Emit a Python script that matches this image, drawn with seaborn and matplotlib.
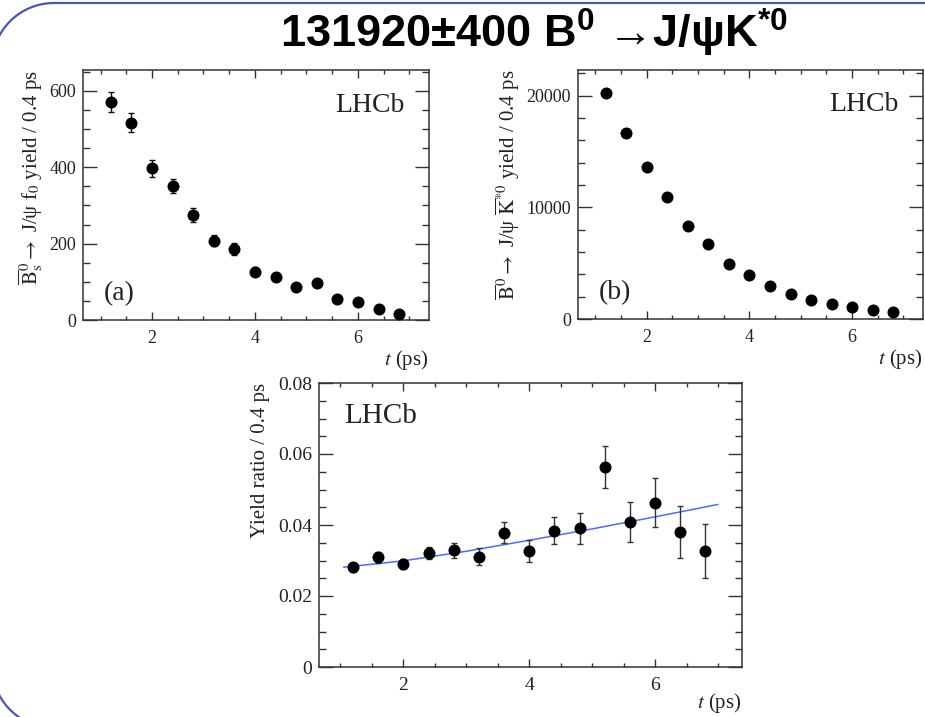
import numpy as np
import pandas as pd
import matplotlib
matplotlib.use("Agg")
import matplotlib.pyplot as plt
import seaborn as sns
from matplotlib.ticker import MultipleLocator, FormatStrFormatter

# ---------------- data ----------------
t = [1.2, 1.6, 2.0, 2.4, 2.8, 3.2, 3.6, 4.0, 4.4, 4.8, 5.2, 5.6, 6.0, 6.4, 6.8]
yield_bs = [571, 517, 397, 351, 275, 208, 186, 127, 113, 87, 98, 54, 47, 28, 17]
yield_bs_err = [26, 25, 22, 19, 18, 14, 15, 11, 11, 9, 10, 7, 7, 5, 4]
yield_bd = [20209, 16692, 13651, 10909, 8316, 6706, 4918, 3905, 2981, 2265,
            1729, 1341, 1043, 775, 596]
ratio = [0.0281, 0.0309, 0.0290, 0.0321, 0.0329, 0.0311, 0.0378, 0.0328,
         0.0384, 0.0391, 0.0563, 0.0408, 0.0462, 0.0381, 0.0327]
ratio_err = [0.0013, 0.0015, 0.0015, 0.0018, 0.0021, 0.0024, 0.0030, 0.0031,
             0.0038, 0.0044, 0.0059, 0.0057, 0.0069, 0.0073, 0.0077]
fit_t = [1.05, 2.0, 3.0, 4.0, 5.0, 6.0, 7.0]
fit_ratio = [0.0281, 0.0299, 0.0326, 0.0357, 0.0389, 0.0423, 0.0458]

title = "131920\u00b1400 B$^\\mathbf{0}$ \u2192J/\u03c8K$^\\mathbf{*0}$"
ylabel_a = r"$\overline{\mathrm{B}}^0_\mathrm{s}\rightarrow$ J/ψ f$_0$ yield / 0.4 ps"
ylabel_b = r"$\overline{\mathrm{B}}^0\rightarrow$ J/ψ $\overline{\mathrm{K}}^{*0}$ yield / 0.4 ps"
ylabel_c = "Yield ratio / 0.4 ps"
xlabel = r"$t$ (ps)"

df = pd.DataFrame({"t": t, "bs": yield_bs, "bs_err": yield_bs_err,
                   "bd": yield_bd, "ratio": ratio, "ratio_err": ratio_err})
df_fit = pd.DataFrame({"t": fit_t, "r": fit_ratio})

# ---------------- style ----------------
sns.set_theme(style="ticks")
plt.rcParams["font.family"] = ["Liberation Serif", "DejaVu Serif"]
plt.rcParams["mathtext.fontset"] = "stix"
plt.rcParams["mathtext.bf"] = "Liberation Sans:bold"
TXT = "#222222"

fig = plt.figure(figsize=(9.25, 7.17), dpi=100)
W, H = 925, 717

def box(l, t_, r, b):
    return [l / W, 1 - b / H, (r - l) / W, (b - t_) / H]

ax_a = fig.add_axes(box(83, 70, 429, 320))
ax_b = fig.add_axes(box(578, 70, 923, 319))
ax_c = fig.add_axes(box(319, 383, 742, 667))

def style(ax, ymajor, yminor, ymax):
    ax.set_xlim(0.66, 7.38)
    ax.set_ylim(0, ymax)
    ax.xaxis.set_major_locator(MultipleLocator(2))
    ax.xaxis.set_minor_locator(MultipleLocator(0.5))
    ax.yaxis.set_major_locator(MultipleLocator(ymajor))
    ax.yaxis.set_minor_locator(MultipleLocator(yminor))
    ax.tick_params(axis="both", which="both", direction="in", top=True,
                   right=True, colors="#333333", labelcolor=TXT, width=1.0)
    ax.tick_params(axis="y", which="major", length=10, labelsize=13, pad=5)
    ax.tick_params(axis="y", which="minor", length=5)
    ax.tick_params(axis="x", which="major", length=6, labelsize=13, pad=7)
    ax.tick_params(axis="x", which="minor", length=3)
    for s in ax.spines.values():
        s.set_visible(True)
        s.set_color("#333333")
        s.set_linewidth(1.1)
    ax.set_xlabel("")
    ax.set_ylabel("")

# panel (a)
ax_a.errorbar(df["t"], df["bs"], yerr=df["bs_err"], fmt="none",
              ecolor="#111111", elinewidth=1.0, capsize=2.5, capthick=1.0)
sns.scatterplot(data=df, x="t", y="bs", ax=ax_a, color="black", s=75,
                edgecolor="black", linewidth=0, zorder=3)
style(ax_a, 200, 50, 655)
ax_a.yaxis.set_major_formatter(FormatStrFormatter("%d"))
ax_a.text(0.93, 0.86, "LHCb", transform=ax_a.transAxes, ha="right",
          va="center", fontsize=20, color=TXT)
ax_a.text(0.06, 0.105, "(a)", transform=ax_a.transAxes, ha="left",
          va="center", fontsize=20, color=TXT)
ax_a.set_ylabel(ylabel_a, loc="top", fontsize=15, color=TXT, labelpad=3)
ax_a.set_xlabel(xlabel, loc="right", fontsize=15, color=TXT, labelpad=1)

# panel (b)
sns.scatterplot(data=df, x="t", y="bd", ax=ax_b, color="black", s=75,
                edgecolor="black", linewidth=0, zorder=3)
style(ax_b, 10000, 2000, 22300)
ax_b.yaxis.set_major_formatter(FormatStrFormatter("%d"))
ax_b.text(0.93, 0.86, "LHCb", transform=ax_b.transAxes, ha="right",
          va="center", fontsize=20, color=TXT)
ax_b.text(0.06, 0.105, "(b)", transform=ax_b.transAxes, ha="left",
          va="center", fontsize=20, color=TXT)
ax_b.set_ylabel(ylabel_b, loc="top", fontsize=15, color=TXT, labelpad=3)
ax_b.set_xlabel(xlabel, loc="right", fontsize=15, color=TXT, labelpad=1)

# panel (c)
sns.lineplot(data=df_fit, x="t", y="r", ax=ax_c, color="#4a6cff",
             linewidth=1.1, zorder=2)
ax_c.errorbar(df["t"], df["ratio"], yerr=df["ratio_err"], fmt="none",
              ecolor="#333333", elinewidth=1.0, capsize=2.5, capthick=1.0,
              zorder=3)
sns.scatterplot(data=df, x="t", y="ratio", ax=ax_c, color="black", s=75,
                edgecolor="black", linewidth=0, zorder=4)
style(ax_c, 0.02, 0.005, 0.08)
ax_c.tick_params(axis="y", which="major", labelsize=14)
ax_c.tick_params(axis="x", which="major", labelsize=14, pad=7)
ax_c.set_yticks([0, 0.02, 0.04, 0.06, 0.08])
ax_c.set_yticklabels(["0", "0.02", "0.04", "0.06", "0.08"])
ax_c.text(0.06, 0.885, "LHCb", transform=ax_c.transAxes, ha="left",
          va="center", fontsize=21, color=TXT)
ax_c.set_ylabel(ylabel_c, loc="top", fontsize=15, color=TXT, labelpad=6)
ax_c.set_xlabel(xlabel, loc="right", fontsize=15, color=TXT, labelpad=-2)

# slide title
fig.text(534 / W, 1 - 33 / H, title, ha="center", va="center",
         fontsize=32.5, fontweight="bold", color="black",
         family=["Liberation Sans", "DejaVu Sans"],
         math_fontfamily="custom")

# slide frame (rounded rectangle, partly off-page)
ov = fig.add_axes([0, 0, 1, 1], zorder=-10)
ov.set_xlim(0, W)
ov.set_ylim(H, 0)
ov.axis("off")
r, cx, top, cy_bot = 62, 54, 3, 666
a1 = np.linspace(np.pi, 1.5 * np.pi, 40)
a2 = np.linspace(0.5 * np.pi, np.pi, 40)
xs = np.concatenate([[W + 10], cx + r * np.cos(a1[::-1]),
                     cx + r * np.cos(a2[::-1]), [cx + 40]])
ys = np.concatenate([[top], (top + r) + r * np.sin(a1[::-1]),
                     cy_bot + r * np.sin(a2[::-1]), [cy_bot + r]])
ov.plot(xs, ys, color="#4a55b5", linewidth=1.6, solid_capstyle="round")

fig.savefig("out.png", dpi=100)
